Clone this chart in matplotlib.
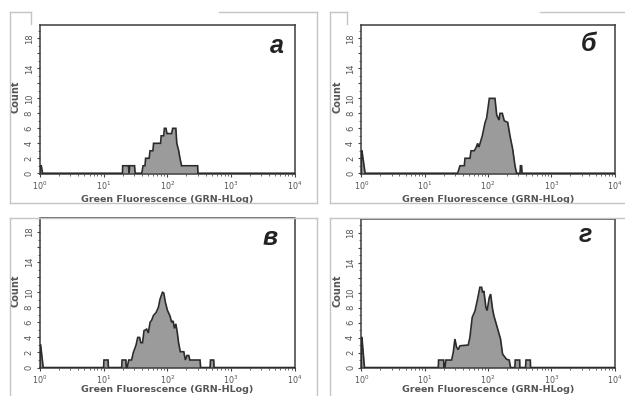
import numpy as np
import matplotlib
matplotlib.use('Agg')
import matplotlib.pyplot as plt
from matplotlib.lines import Line2D
from matplotlib.patches import Rectangle

W, H = 625, 396

# ---- data: histogram outline vertices (log10 fluorescence, count) ----
a_logx = [0.0, 0.0, 0.02, 0.04,
          1.296, 1.30, 1.39, 1.40, 1.41, 1.486, 1.496,
          1.600, 1.62, 1.65, 1.66, 1.715, 1.73, 1.775, 1.785, 1.895, 1.905,
          1.945, 1.955, 1.98, 1.995, 2.07, 2.085, 2.135, 2.15, 2.18, 2.20, 2.225, 2.235,
          2.478, 2.482, 4.0]
a_count = [0, 1, 1, 0,
           0, 1, 1, 0, 1, 1, 0,
           0, 1, 1, 2, 2, 3, 3, 4, 4, 5,
           5, 6, 6, 5.3, 5.3, 6, 6, 4, 3, 2, 1, 1,
           1, 0, 0]

b_logx = [0.0, 0.0, 0.01, 0.06,
          1.521, 1.558, 1.626, 1.637, 1.716, 1.732, 1.784, 1.81, 1.837, 1.85, 1.865,
          1.91, 1.952, 1.979, 2.005, 2.021, 2.11, 2.137, 2.174, 2.189, 2.226, 2.257,
          2.311, 2.347, 2.39, 2.426, 2.452,
          2.505, 2.512, 2.53, 2.537, 4.0]
b_count = [0, 3, 3, 0,
           0, 1, 1, 2, 2, 3, 3, 3.4, 4, 3.5, 3.7,
           5, 6.7, 7.4, 9.0, 10, 10, 7.8, 7.1, 8, 8, 7,
           6.8, 5, 3.2, 1, 0,
           0, 1, 1, 0, 0]

c_logx = [0.0, 0.0, 0.01, 0.05,
          1.0, 1.005, 1.07, 1.075,
          1.284, 1.29, 1.35, 1.355,
          1.37, 1.395, 1.44, 1.467, 1.51, 1.536, 1.565, 1.585, 1.612, 1.635,
          1.677, 1.703, 1.73, 1.756, 1.782, 1.824, 1.861, 1.887, 1.925, 1.945,
          1.97, 2.003, 2.03, 2.045, 2.07, 2.092, 2.113, 2.135, 2.157, 2.178, 2.205,
          2.26, 2.285, 2.31, 2.338, 2.355, 2.515, 2.525,
          2.673, 2.68, 2.73, 2.736, 4.0]
c_count = [0, 3, 3, 0,
           0, 1, 1, 0,
           0, 1, 1, 0,
           0, 1, 1, 2, 3, 4, 4, 3.3, 3.3, 4.9,
           5.1, 4.6, 6, 6.3, 6.9, 7.3, 8, 9.1, 10, 9.9,
           8.7, 7.6, 7.1, 6.8, 6, 6.2, 5.2, 5.8, 4.7, 3.3, 2.1,
           2.1, 1, 1.6, 1.6, 1, 1, 0,
           0, 1, 1, 0, 0]

d_logx = [0.0, 0.0, 0.01, 0.05,
          1.215, 1.22, 1.30, 1.304,
          1.32, 1.336, 1.426, 1.451, 1.478, 1.504, 1.53, 1.557, 1.688, 1.714,
          1.751, 1.793, 1.83, 1.872, 1.899, 1.915, 1.935, 1.967, 1.987, 2.019,
          2.041, 2.072, 2.093, 2.124, 2.161, 2.198, 2.23, 2.293, 2.335, 2.356,
          2.424, 2.43, 2.50, 2.503,
          2.593, 2.60, 2.668, 2.672, 4.0]
d_count = [0, 4, 4, 0,
           0, 1, 1, 0,
           0, 1, 1, 2, 3.8, 2.7, 2.4, 2.9, 3, 4,
           6.7, 7.5, 8.9, 10.7, 10.7, 10, 10.2, 8, 7.6, 9.3,
           9.8, 7.8, 6.9, 6, 4.9, 3.8, 1.8, 1.1, 1, 0,
           0, 1, 1, 0,
           0, 1, 1, 0, 0]

panel_letters = ['а', 'б', 'в', 'г']
x_label = 'Green Fluorescence (GRN-HLog)'
y_label = 'Count'
x_ticks = [1, 10, 100, 1000, 10000]
x_tick_labels = [r'$10^{0}$', r'$10^{1}$', r'$10^{2}$', r'$10^{3}$', r'$10^{4}$']
y_ticks = [0, 2, 4, 6, 8, 10, 12, 14, 16, 18]
y_tick_labels = ['0', '2', '4', '6', '8', '10', '', '14', '', '18']

panels = [(a_logx, a_count), (b_logx, b_count), (c_logx, c_count), (d_logx, d_count)]

# ---- layout (pixel boxes: left, top, right, bottom) ----
axes_px = [(40, 25, 294.5, 174), (361.3, 25, 614.7, 174),
           (40, 218.5, 294.5, 368.3), (361.3, 219, 614.7, 368.3)]
letter_pos = [(0.93, 0.86), (0.897, 0.87), (0.904, 0.873), (0.883, 0.89)]
xlabel_y = [-0.14, -0.14, -0.1115, -0.1115]

fig = plt.figure(figsize=(W / 100, H / 100), dpi=100)
fig.patch.set_facecolor('white')

def fx(x):
    return x / W

def fy(y):
    return 1 - y / H

FILL = '#9b9b9b'
EDGE = '#2b2b2b'
TXT = '#555555'

for i, ((lx, cnt), (l, t, r, b)) in enumerate(zip(panels, axes_px)):
    ax = fig.add_axes([fx(l), fy(b), (r - l) / W, (b - t) / H])
    x = 10 ** np.array(lx)
    y = np.array(cnt, dtype=float)
    ax.fill_between(x, y, 0, color=FILL, lw=0, zorder=2)
    ax.plot(x, y, color=EDGE, lw=1.2, zorder=3, solid_joinstyle='miter')
    ax.set_xscale('log')
    ax.set_xlim(1, 1e4)
    ax.set_ylim(-0.1, 19.8)
    ax.set_xticks(x_ticks)
    ax.set_xticklabels(x_tick_labels)
    ax.set_yticks(y_ticks)
    ax.set_yticklabels(y_tick_labels, rotation=90, va='center')
    ax.set_yticks(np.arange(0, 20, 1), minor=True)
    ax.tick_params(axis='both', which='major', labelsize=5.8, colors='#444444',
                   labelcolor=TXT, length=2.5, width=0.8, direction='out', pad=1.5)
    ax.tick_params(axis='both', which='minor', colors='#666666', length=1.5, width=0.7,
                   direction='out')
    ax.tick_params(axis='y', which='major', labelsize=6, pad=2)
    for s in ax.spines.values():
        s.set_color('#3c3c3c')
        s.set_linewidth(1.1)
    ax.set_xlabel(x_label, fontsize=6.8, fontweight='bold', color=TXT)
    ax.xaxis.set_label_coords(0.5, xlabel_y[i])
    ax.set_ylabel(y_label, fontsize=7, fontweight='bold', color=TXT)
    ax.yaxis.set_label_coords(-0.075, 0.52)
    ax.text(letter_pos[i][0], letter_pos[i][1], panel_letters[i], transform=ax.transAxes,
            ha='center', va='center', fontsize=18, fontweight='bold', fontstyle='italic',
            family='Liberation Sans', color='#222222')

# white gap between rows (cuts the top x-labels like the scanned original)
fig.add_artist(Rectangle((0, fy(217)), 1, fy(203.5) - fy(217), transform=fig.transFigure,
                         facecolor='white', edgecolor='none', zorder=10))

FR = '#c4c4c4'
def seg(x0, y0, x1, y1):
    fig.add_artist(Line2D([fx(x0), fx(x1)], [fy(y0), fy(y1)], transform=fig.transFigure,
                          color=FR, lw=1.0, zorder=11))

# top-left frame
seg(10, 12, 31, 12); seg(31, 12, 31, 24); seg(219, 12, 317, 12)
seg(10, 12, 10, 203); seg(317, 12, 317, 203); seg(10, 203, 317, 203)
# top-right frame
seg(330, 12, 347, 12); seg(347, 12, 347, 24); seg(540, 12, 625, 12)
seg(330, 12, 330, 203); seg(330, 203, 625, 203)
# bottom frames
seg(10, 218, 317, 218); seg(10, 218, 10, 396); seg(317, 218, 317, 396)
seg(330, 218, 625, 218); seg(330, 218, 330, 396)

fig.savefig('out.png', dpi=100, facecolor='white')
